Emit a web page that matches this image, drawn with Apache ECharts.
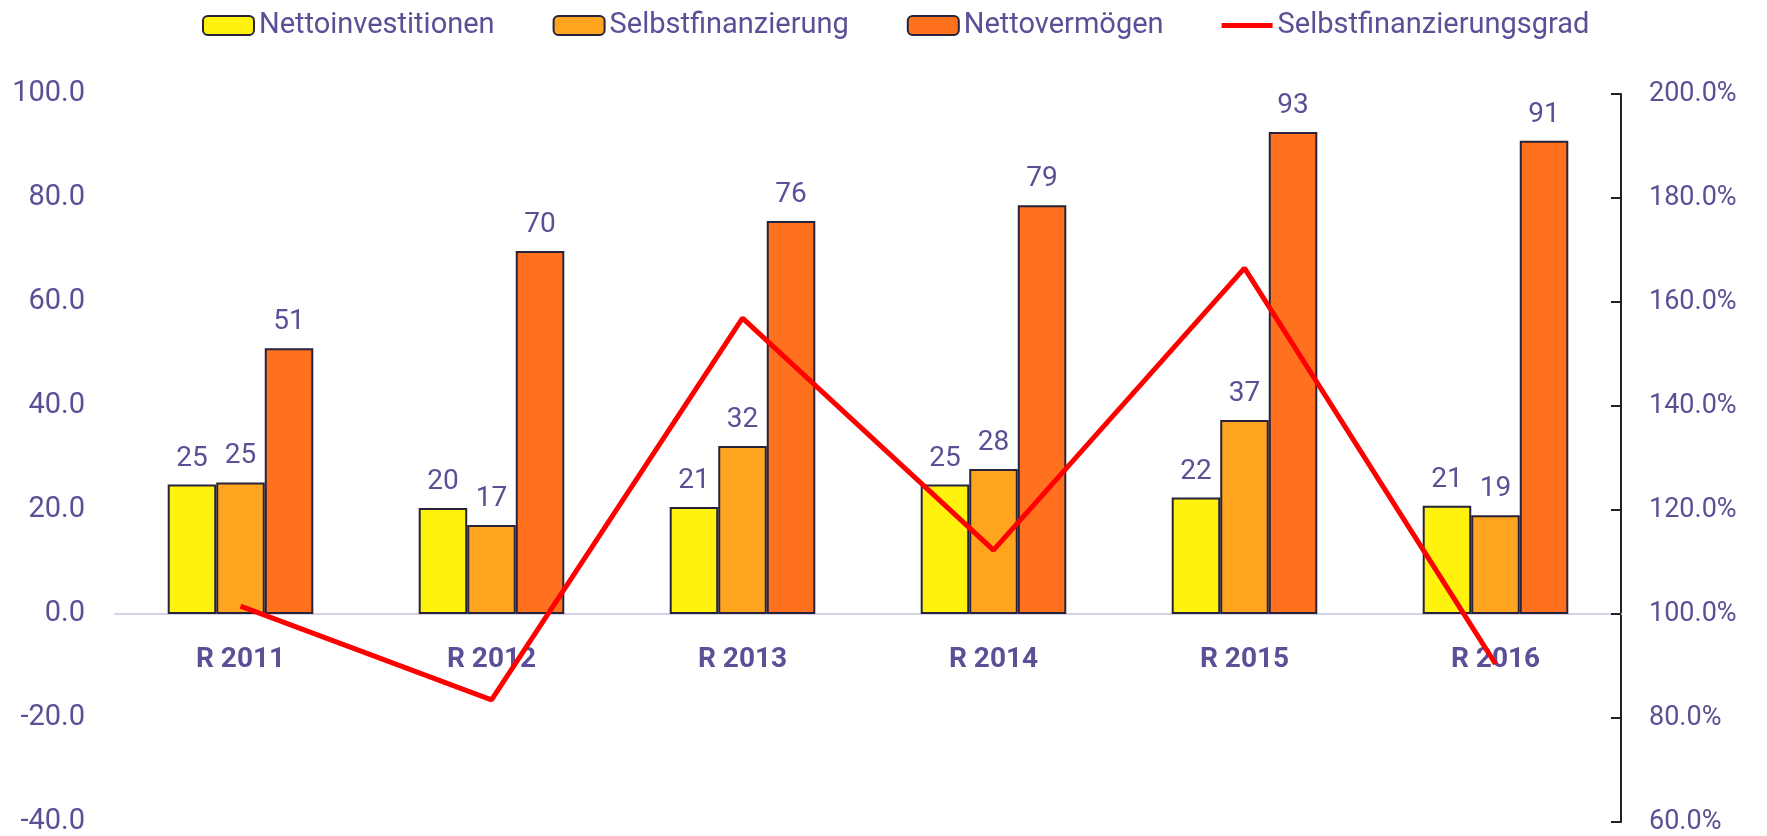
<!DOCTYPE html>
<html>
<head>
<meta charset="utf-8">
<script src="https://cdn.jsdelivr.net/npm/echarts@6/dist/echarts.min.js"></script>
<style>
  html, body { margin: 0; padding: 0; background: #fff; }
  #chart { width: 1767px; height: 836px; }
</style>
</head>
<body>
<div id="chart"></div>
<script>
// data
var categories = ['R 2011', 'R 2012', 'R 2013', 'R 2014', 'R 2015', 'R 2016'];
var nettoinvestitionen = [24.9, 20.4, 20.6, 24.9, 22.4, 20.8];
var selbstfinanzierung = [25.3, 17.1, 32.3, 27.9, 37.3, 19.0];
var nettovermoegen = [51.1, 69.8, 75.6, 78.6, 92.7, 91.0];
var selbstfinanzierungsgrad = [101.5, 83.5, 156.9, 112.3, 166.5, 90.4]; // in %

var textColor = '#5B4F96';
var font = 'Roboto, "Noto Sans", sans-serif';

var chart = echarts.init(document.getElementById('chart'));

function barSeries(name, data, color) {
    return {
        name: name,
        type: 'bar',
        yAxisIndex: 0,
        data: data,
        barGap: '0%',
        barCategoryGap: '42%',
        itemStyle: { color: color, borderColor: '#26233a', borderWidth: 2 },
        label: {
            show: true,
            position: 'top',
            distance: 12,
            color: textColor,
            fontFamily: font,
            fontSize: 28,
            formatter: function (p) { return Math.round(p.value); }
        }
    };
}

chart.setOption({
    animation: false,
    legend: {
        top: 6,
        left: 197,
        itemWidth: 51,
        itemHeight: 19,
        itemGap: 58,
        textStyle: { color: textColor, fontFamily: font, fontSize: 29 },
        data: [
            { name: 'Nettoinvestitionen', itemStyle: { borderColor: '#26233a', borderWidth: 2 } },
            { name: 'Selbstfinanzierung', itemStyle: { borderColor: '#26233a', borderWidth: 2 } },
            { name: 'Nettovermögen', itemStyle: { borderColor: '#26233a', borderWidth: 2 } },
            { name: 'Selbstfinanzierungsgrad', icon: 'path://M0,0 L50,0 L50,5 L0,5 Z' }
        ]
    },
    grid: { left: 115, right: 146, top: 94, bottom: 14, outerBoundsMode: 'none' },
    xAxis: {
        type: 'category',
        data: categories,
        // zero of the left axis sits 100/140 of the way down the grid
        offset: -208,
        axisLine: { onZero: false, lineStyle: { color: '#D4D2EA', width: 2 } },
        axisTick: { length: 10, lineStyle: { color: '#D4D2EA', width: 2 } },
        axisLabel: {
            margin: 32,
            color: textColor,
            fontFamily: font,
            fontWeight: 'bold',
            fontSize: 28
        }
    },
    yAxis: [
        {
            type: 'value',
            min: -40,
            max: 100,
            interval: 20,
            axisLine: { show: false },
            axisTick: { show: false },
            splitLine: { show: false },
            axisLabel: {
                margin: 30,
                color: textColor,
                fontFamily: font,
                fontSize: 29,
                formatter: function (v) { return v.toFixed(1); }
            }
        },
        {
            type: 'value',
            position: 'right',
            min: 60,
            max: 200,
            interval: 20,
            axisLine: { show: true, lineStyle: { color: '#222', width: 2 } },
            axisTick: { show: true, inside: true, length: 10, lineStyle: { color: '#222', width: 2 } },
            splitLine: { show: false },
            axisLabel: {
                margin: 28,
                color: textColor,
                fontFamily: font,
                fontSize: 27,
                formatter: function (v) { return v.toFixed(1) + '%'; }
            }
        }
    ],
    series: [
        barSeries('Nettoinvestitionen', nettoinvestitionen, '#FFF20E'),
        barSeries('Selbstfinanzierung', selbstfinanzierung, '#FFA41F'),
        barSeries('Nettovermögen', nettovermoegen, '#FF711F'),
        {
            name: 'Selbstfinanzierungsgrad',
            type: 'line',
            yAxisIndex: 1,
            data: selbstfinanzierungsgrad,
            symbol: 'none',
            z: 5,
            itemStyle: { color: '#FF0000' },
            lineStyle: { color: '#FF0000', width: 5 }
        }
    ]
});
</script>
</body>
</html>
